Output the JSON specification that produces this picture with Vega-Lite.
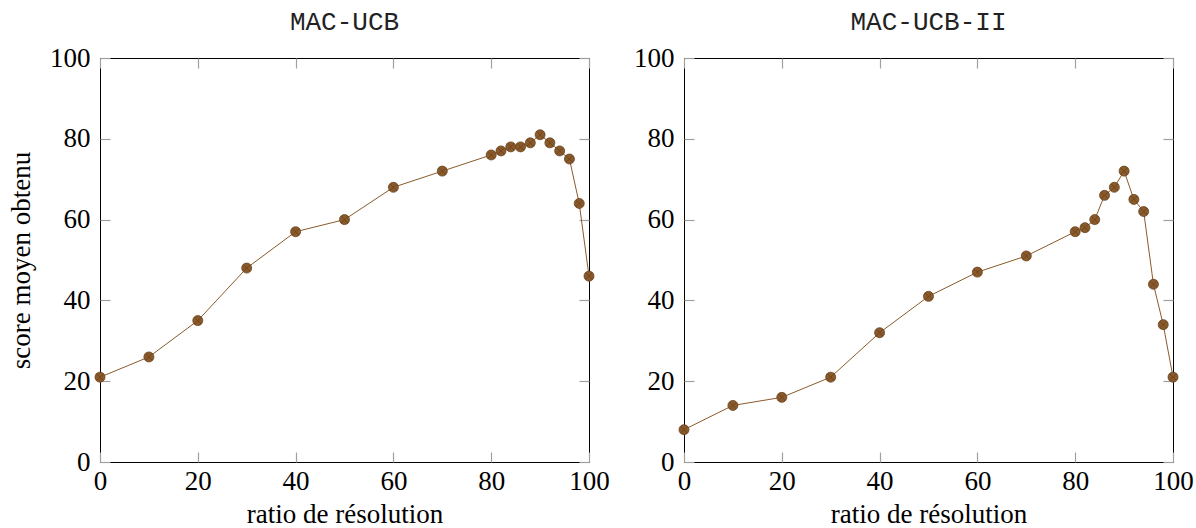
{
  "$schema": "https://vega.github.io/schema/vega-lite/v6.json",
  "background": "white",
  "padding": {"left": 7, "top": 8, "right": 5, "bottom": 0},
  "datasets": {
    "a": [
      {"ratio": 0, "score": 21}, {"ratio": 10, "score": 26}, {"ratio": 20, "score": 35},
      {"ratio": 30, "score": 48}, {"ratio": 40, "score": 57}, {"ratio": 50, "score": 60},
      {"ratio": 60, "score": 68}, {"ratio": 70, "score": 72}, {"ratio": 80, "score": 76},
      {"ratio": 82, "score": 77}, {"ratio": 84, "score": 78}, {"ratio": 86, "score": 78},
      {"ratio": 88, "score": 79}, {"ratio": 90, "score": 81}, {"ratio": 92, "score": 79},
      {"ratio": 94, "score": 77}, {"ratio": 96, "score": 75}, {"ratio": 98, "score": 64},
      {"ratio": 100, "score": 46}
    ],
    "b": [
      {"ratio": 0, "score": 8}, {"ratio": 10, "score": 14}, {"ratio": 20, "score": 16},
      {"ratio": 30, "score": 21}, {"ratio": 40, "score": 32}, {"ratio": 50, "score": 41},
      {"ratio": 60, "score": 47}, {"ratio": 70, "score": 51}, {"ratio": 80, "score": 57},
      {"ratio": 82, "score": 58}, {"ratio": 84, "score": 60}, {"ratio": 86, "score": 66},
      {"ratio": 88, "score": 68}, {"ratio": 90, "score": 72}, {"ratio": 92, "score": 65},
      {"ratio": 94, "score": 62}, {"ratio": 96, "score": 44}, {"ratio": 98, "score": 34},
      {"ratio": 100, "score": 21}
    ]
  },
  "config": {
    "view": {"stroke": "black", "strokeWidth": 1},
    "font": "Liberation Serif",
    "axis": {
      "grid": false, "domain": false, "labelFlush": false, "labelOverlap": false,
      "tickColor": "#a0a0a0", "tickSize": -10, "tickWidth": 1.2,
      "labelFont": "Liberation Serif", "labelFontSize": 27, "labelColor": "black",
      "titleFont": "Liberation Serif", "titleFontSize": 27, "titleFontWeight": "normal", "titleColor": "black"
    },
    "title": {"font": "Liberation Mono", "fontSize": 26, "fontWeight": "normal", "color": "#222222", "offset": 9}
  },
  "spacing": 23,
  "hconcat": [
    {
      "title": "MAC-UCB",
      "width": 489, "height": 404,
      "data": {"name": "a"},
      "resolve": {"axis": {"x": "independent", "y": "independent"}},
      "layer": [
        {
          "mark": {"type": "line", "color": "#8a5a2b", "strokeWidth": 1},
          "encoding": {
            "x": {"field": "ratio", "type": "quantitative", "scale": {"domain": [0, 100]},
                  "axis": {"orient": "top", "labels": false, "title": null, "values": [0, 20, 40, 60, 80, 100]}},
            "y": {"field": "score", "type": "quantitative", "scale": {"domain": [0, 100]},
                  "axis": {"orient": "right", "labels": false, "title": null, "values": [0, 20, 40, 60, 80, 100]}}
          }
        },
        {
          "mark": {"type": "point", "shape": "circle", "filled": true, "fill": "#8a5a2b", "stroke": "#6a4220", "strokeWidth": 0.8, "size": 100, "opacity": 1},
          "encoding": {
            "x": {"field": "ratio", "type": "quantitative", "scale": {"domain": [0, 100]},
                  "axis": {"orient": "bottom", "title": "ratio de résolution", "values": [0, 20, 40, 60, 80, 100], "labelPadding": 16, "titlePadding": 7}},
            "y": {"field": "score", "type": "quantitative", "scale": {"domain": [0, 100]},
                  "axis": {"orient": "left", "title": "score moyen obtenu", "values": [0, 20, 40, 60, 80, 100], "labelPadding": 20, "titlePadding": 14}}
          }
        },
        {
          "mark": {"type": "point", "shape": "M-0.7,-0.7L0.7,0.7M0.7,-0.7L-0.7,0.7", "filled": false, "stroke": "#5a3818", "strokeWidth": 0.7, "size": 100, "opacity": 0.8},
          "encoding": {
            "x": {"field": "ratio", "type": "quantitative", "scale": {"domain": [0, 100]}, "axis": null},
            "y": {"field": "score", "type": "quantitative", "scale": {"domain": [0, 100]}, "axis": null}
          }
        }
      ]
    },
    {
      "title": "MAC-UCB-II",
      "width": 489, "height": 404,
      "data": {"name": "b"},
      "resolve": {"axis": {"x": "independent", "y": "independent"}},
      "layer": [
        {
          "mark": {"type": "line", "color": "#8a5a2b", "strokeWidth": 1},
          "encoding": {
            "x": {"field": "ratio", "type": "quantitative", "scale": {"domain": [0, 100]},
                  "axis": {"orient": "top", "labels": false, "title": null, "values": [0, 20, 40, 60, 80, 100]}},
            "y": {"field": "score", "type": "quantitative", "scale": {"domain": [0, 100]},
                  "axis": {"orient": "right", "labels": false, "title": null, "values": [0, 20, 40, 60, 80, 100]}}
          }
        },
        {
          "mark": {"type": "point", "shape": "circle", "filled": true, "fill": "#8a5a2b", "stroke": "#6a4220", "strokeWidth": 0.8, "size": 100, "opacity": 1},
          "encoding": {
            "x": {"field": "ratio", "type": "quantitative", "scale": {"domain": [0, 100]},
                  "axis": {"orient": "bottom", "title": "ratio de résolution", "values": [0, 20, 40, 60, 80, 100], "labelPadding": 16, "titlePadding": 7}},
            "y": {"field": "score", "type": "quantitative", "scale": {"domain": [0, 100]},
                  "axis": {"orient": "left", "title": null, "values": [0, 20, 40, 60, 80, 100], "labelPadding": 20}}
          }
        },
        {
          "mark": {"type": "point", "shape": "M-0.7,-0.7L0.7,0.7M0.7,-0.7L-0.7,0.7", "filled": false, "stroke": "#5a3818", "strokeWidth": 0.7, "size": 100, "opacity": 0.8},
          "encoding": {
            "x": {"field": "ratio", "type": "quantitative", "scale": {"domain": [0, 100]}, "axis": null},
            "y": {"field": "score", "type": "quantitative", "scale": {"domain": [0, 100]}, "axis": null}
          }
        }
      ]
    }
  ]
}
